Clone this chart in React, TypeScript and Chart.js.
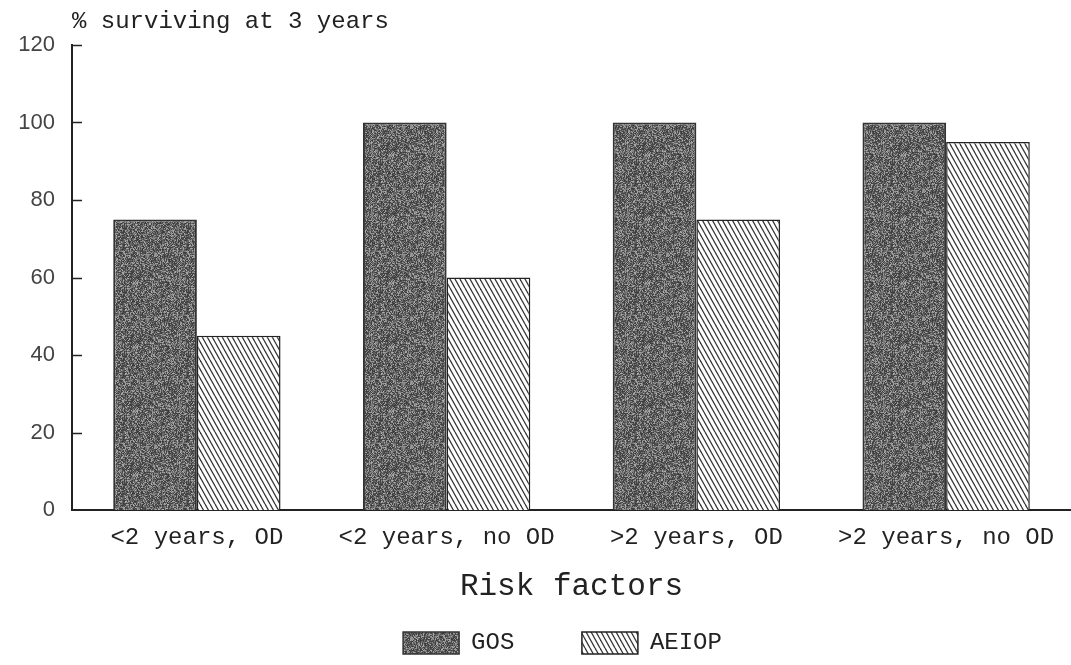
import React, { useEffect, useRef } from "react";
import { Chart, registerables } from "chart.js";

Chart.register(...registerables);

const categories = ["<2 years, OD", "<2 years, no OD", ">2 years, OD", ">2 years, no OD"];
const gosValues = [75, 100, 100, 100];
const aeiopValues = [45, 60, 75, 95];
const seriesNames = ["GOS", "AEIOP"];
const yTitle = "% surviving at 3 years";
const xTitle = "Risk factors";
const yMin = 0;
const yMax = 120;
const yStep = 20;

const MONO = "'Liberation Mono', 'DejaVu Sans Mono', monospace";
const SANS = "'Liberation Sans', Arial, sans-serif";

function hash(x: number, y: number): number {
  let h = Math.imul(x, 374761393) + Math.imul(y, 668265263);
  h = Math.imul(h ^ (h >>> 13), 1274126177);
  h = h ^ (h >>> 16);
  return (h >>> 0) / 4294967296;
}

function makeSpeckle(): CanvasPattern | string {
  const c = document.createElement("canvas");
  const S = 64;
  c.width = S;
  c.height = S;
  const ctx = c.getContext("2d");
  if (!ctx) return "#666";
  const img = ctx.createImageData(S, S);
  for (let y = 0; y < S; y++) {
    for (let x = 0; x < S; x++) {
      const h = hash(x + 11, y + 7);
      const v = Math.round(58 + 120 * Math.pow(h, 1.7));
      const i = (y * S + x) * 4;
      img.data[i] = v;
      img.data[i + 1] = v;
      img.data[i + 2] = v;
      img.data[i + 3] = 255;
    }
  }
  ctx.putImageData(img, 0, 0);
  return ctx.createPattern(c, "repeat") || "#666";
}

function makeHatch(): CanvasPattern | string {
  const c = document.createElement("canvas");
  const W = 20;
  const H = 36;
  c.width = W;
  c.height = H;
  const ctx = c.getContext("2d");
  if (!ctx) return "#fff";
  ctx.fillStyle = "#ffffff";
  ctx.fillRect(0, 0, W, H);
  ctx.strokeStyle = "#333333";
  ctx.lineWidth = 1.3;
  for (let o = -40; o <= 40; o += 5) {
    ctx.beginPath();
    ctx.moveTo(o, 0);
    ctx.lineTo(o + W, H);
    ctx.stroke();
  }
  return ctx.createPattern(c, "repeat") || "#fff";
}

const innerTicks = {
  id: "innerTicks",
  afterLayout(chart: any) {
    const lg = chart.legend;
    if (lg) {
      lg.left += 27;
      lg.right += 27;
    }
  },
  afterDraw(chart: any) {
    const { ctx, chartArea, scales } = chart;
    const y = scales.y;
    ctx.save();
    ctx.strokeStyle = "#222";
    ctx.lineWidth = 1.5;
    for (let v = yMin; v <= yMax; v += yStep) {
      if (v === yMin) continue;
      const py = Math.round(y.getPixelForValue(v)) + 0.5;
      ctx.beginPath();
      ctx.moveTo(chartArea.left, py);
      ctx.lineTo(chartArea.left + 10, py);
      ctx.stroke();
    }
    ctx.fillStyle = "#222";
    ctx.font = `24px ${MONO}`;
    ctx.textAlign = "left";
    ctx.textBaseline = "alphabetic";
    ctx.fillText(yTitle, chartArea.left, 28);
    ctx.restore();
  },
};

export default function App() {
  const ref = useRef<HTMLCanvasElement | null>(null);

  useEffect(() => {
    document.body.style.margin = "0";
    const canvas = ref.current;
    if (!canvas) return;
    const speckle = makeSpeckle();
    const hatch = makeHatch();

    const chart = new Chart(canvas, {
      type: "bar",
      data: {
        labels: categories,
        datasets: [
          {
            label: seriesNames[0],
            data: gosValues,
            backgroundColor: speckle as any,
            borderColor: "#333",
            borderWidth: 2,
            borderSkipped: "bottom",
          },
          {
            label: seriesNames[1],
            data: aeiopValues,
            backgroundColor: hatch as any,
            borderColor: "#222",
            borderWidth: 1.5,
            borderSkipped: "bottom",
          },
        ],
      },
      options: {
        animation: false,
        responsive: false,
        maintainAspectRatio: false,
        layout: { padding: { top: 45, left: 0, right: 0, bottom: 0 } },
        datasets: {
          bar: { categoryPercentage: 0.67, barPercentage: 1.0 },
        },
        plugins: {
          tooltip: { enabled: false },
          legend: {
            position: "bottom",
            labels: {
              boxWidth: 56,
              boxHeight: 22,
              padding: 10,
              color: "#222",
              font: { family: MONO, size: 24 },
              generateLabels: (ch: any) => {
                const base = Chart.defaults.plugins.legend.labels.generateLabels(ch);
                return base.map((l: any, i: number) => ({
                  ...l,
                  text: i === 0 ? l.text + "    " : l.text,
                  lineWidth: 1.5,
                }));
              },
            },
          },
        },
        scales: {
          x: {
            grid: { display: false, drawTicks: false },
            border: { display: true, color: "#222", width: 2 },
            ticks: {
              color: "#222",
              padding: 13,
              font: { family: MONO, size: 24 },
              maxRotation: 0,
            },
            title: {
              display: true,
              text: xTitle,
              color: "#222",
              font: { family: MONO, size: 31 },
              padding: { top: 3, bottom: 16 },
            },
          },
          y: {
            min: yMin,
            max: yMax,
            grid: { display: false, drawTicks: false },
            border: { display: true, color: "#222", width: 2 },
            ticks: {
              stepSize: yStep,
              color: "#444",
              padding: 17,
              font: { family: SANS, size: 22 },
            },
            afterFit: (scale: any) => {
              scale.width = 72;
            },
          },
        },
      },
      plugins: [innerTicks],
    } as any);

    return () => chart.destroy();
  }, []);

  return (
    <div style={{ width: 1071, height: 665 }}>
      <canvas ref={ref} width={1071} height={665} />
    </div>
  );
}
